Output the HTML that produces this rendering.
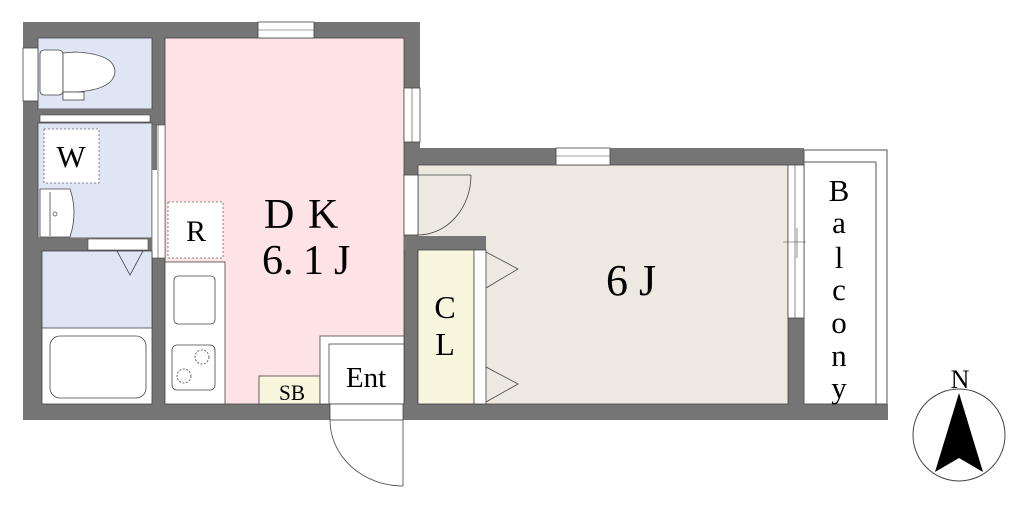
<!DOCTYPE html>
<html><head><meta charset="utf-8"><style>html,body{margin:0;padding:0;background:#fff}svg{display:block}</style></head><body>
<svg width="1024" height="511" viewBox="0 0 1024 511" xmlns="http://www.w3.org/2000/svg" font-family="Liberation Serif, serif">
<rect x="23" y="22" width="397" height="398" fill="#757575"/>
<rect x="404" y="148" width="400" height="272" fill="#757575"/>
<rect x="804" y="404" width="84" height="16" fill="#757575"/>
<rect x="804" y="150" width="83" height="254" fill="#fff" stroke="#555" stroke-width="1"/>
<line x1="876" y1="162" x2="876" y2="404" stroke="#555"/>
<line x1="804" y1="162" x2="876" y2="162" stroke="#555"/>
<rect x="165" y="38" width="239" height="366" fill="#fde2e6" stroke="#444" stroke-width="0.8"/>
<rect x="418" y="165" width="370" height="239" fill="#ede9e0" stroke="#444" stroke-width="0.8"/>
<rect x="404" y="236" width="82" height="14" fill="#757575"/>
<rect x="418" y="250" width="56" height="154" fill="#f8f6dc" stroke="#444" stroke-width="0.8"/>
<rect x="474" y="250" width="12" height="154" fill="#fff" stroke="#444" stroke-width="0.8"/>
<polyline points="486,252 518,269 486,288" fill="none" stroke="#444" stroke-width="0.8"/>
<polyline points="486,367 518,384 486,402" fill="none" stroke="#444" stroke-width="0.8"/>
<rect x="38" y="38" width="114" height="71" fill="#dfe5f2" stroke="#444" stroke-width="0.8"/>
<rect x="23" y="48" width="15" height="53" fill="#fff" stroke="#444" stroke-width="0.8"/>
<rect x="40" y="50" width="23" height="45" rx="4" fill="#fff" stroke="#444" stroke-width="0.8"/>
<path d="M63 53 L75 52 Q115 54 115 72 Q113 90 75 92 L63 92 Z" fill="#fff" stroke="#444" stroke-width="0.8"/>
<rect x="63" y="92" width="21" height="8" fill="#fff" stroke="#444" stroke-width="0.8"/>
<rect x="38" y="109" width="114" height="14" fill="#757575"/>
<rect x="40" y="115" width="110" height="7" fill="#fff" stroke="#444" stroke-width="0.6"/>
<rect x="38" y="123" width="114" height="115" fill="#dfe5f2" stroke="#444" stroke-width="0.8"/>
<rect x="44" y="129" width="55" height="54" fill="#fff" stroke="#666" stroke-width="0.8" stroke-dasharray="2,2"/>
<text x="71" y="167" font-size="31" text-anchor="middle">W</text>
<path d="M40 189 L70 189 Q78 212 70 237 L40 237 Z" fill="#fff" stroke="#444" stroke-width="0.8"/>
<line x1="50" y1="192" x2="50" y2="236" stroke="#444" stroke-width="0.8"/>
<circle cx="55" cy="214" r="2" fill="none" stroke="#444" stroke-width="0.7"/>
<rect x="152" y="125" width="13" height="133" fill="#fff" stroke="#444" stroke-width="0.6"/>
<line x1="158" y1="125" x2="158" y2="258" stroke="#444" stroke-width="0.6"/>
<rect x="152" y="125" width="5" height="45" fill="#757575"/>
<rect x="38" y="238" width="114" height="12" fill="#757575"/>
<rect x="88" y="239" width="60" height="11" fill="#fff" stroke="#444" stroke-width="0.6"/>
<rect x="42" y="251" width="110" height="153" fill="#fff" stroke="#444" stroke-width="0.8"/>
<rect x="42" y="251" width="110" height="77" fill="#dfe5f2" stroke="#444" stroke-width="0.8"/>
<polyline points="117,251 130,275 143,251" fill="none" stroke="#444" stroke-width="0.8"/>
<rect x="50" y="336" width="96" height="62" rx="10" fill="#fff" stroke="#444" stroke-width="0.8"/>
<rect x="168" y="202" width="55" height="56" fill="#fff" stroke="#666" stroke-width="0.8" stroke-dasharray="2,2"/>
<text x="196" y="241" font-size="30" text-anchor="middle">R</text>
<rect x="165" y="262" width="60" height="142" fill="#fff" stroke="#444" stroke-width="0.8"/>
<rect x="174" y="276" width="41" height="48" rx="4" fill="#fff" stroke="#444" stroke-width="0.8"/>
<rect x="172" y="345" width="43" height="45" rx="5" fill="#fff" stroke="#444" stroke-width="0.8"/>
<circle cx="202" cy="357" r="7" fill="none" stroke="#444" stroke-width="0.8" stroke-dasharray="2,1.5"/>
<circle cx="184" cy="376" r="7" fill="none" stroke="#444" stroke-width="0.8" stroke-dasharray="2,1.5"/>
<rect x="259" y="376" width="61" height="28" fill="#f8f6dc" stroke="#444" stroke-width="0.8"/>
<text x="292" y="400" font-size="22" text-anchor="middle" textLength="26" lengthAdjust="spacingAndGlyphs">SB</text>
<rect x="320" y="336" width="84" height="68" fill="#fff" stroke="#444" stroke-width="0.8"/>
<rect x="329" y="344" width="75" height="60" fill="#fff" stroke="#444" stroke-width="0.8"/>
<text x="366" y="387" font-size="29" text-anchor="middle">Ent</text>
<rect x="330" y="404" width="73" height="16" fill="#fff" stroke="#444" stroke-width="0.8"/>
<line x1="403" y1="420" x2="403" y2="486" stroke="#444" stroke-width="0.8"/>
<path d="M330 420 A73 66 0 0 0 403 486" fill="none" stroke="#444" stroke-width="0.8"/>
<rect x="258" y="22" width="56" height="16" fill="#fff" stroke="#444" stroke-width="0.8"/>
<line x1="258" y1="30" x2="314" y2="30" stroke="#444" stroke-width="0.6"/>
<rect x="404" y="88" width="16" height="54" fill="#fff" stroke="#444" stroke-width="0.8"/>
<line x1="412" y1="88" x2="412" y2="142" stroke="#444" stroke-width="0.6"/>
<rect x="556" y="148" width="54" height="17" fill="#fff" stroke="#444" stroke-width="0.8"/>
<line x1="556" y1="156" x2="610" y2="156" stroke="#444" stroke-width="0.6"/>
<rect x="788" y="165" width="16" height="153" fill="#fff" stroke="#444" stroke-width="0.8"/>
<line x1="795" y1="165" x2="795" y2="318" stroke="#444" stroke-width="0.6"/>
<line x1="783" y1="242" x2="806" y2="242" stroke="#444" stroke-width="0.6"/>
<line x1="797" y1="228" x2="797" y2="258" stroke="#444" stroke-width="0.6"/>
<rect x="404" y="175" width="14" height="60" fill="#fff" stroke="#444" stroke-width="0.8"/>
<line x1="418" y1="175" x2="471" y2="175" stroke="#444" stroke-width="0.8"/>
<path d="M471 175 A53 60 0 0 1 418 235" fill="none" stroke="#444" stroke-width="0.8"/>
<text x="264" y="228" font-size="42">D</text>
<text x="308" y="228" font-size="42">K</text>
<text x="262" y="274" font-size="42">6.</text>
<text x="303" y="274" font-size="42">1</text>
<text x="334" y="274" font-size="42">J</text>
<text x="606" y="295" font-size="44">6</text>
<text x="639" y="295" font-size="44">J</text>
<text x="445" y="318" font-size="32" text-anchor="middle">C</text>
<text x="445" y="355" font-size="32" text-anchor="middle">L</text>
<g font-size="31" text-anchor="middle">
<text x="839" y="201">B</text><text x="839" y="233">a</text><text x="839" y="268">l</text><text x="839" y="300">c</text><text x="839" y="333">o</text><text x="839" y="366">n</text><text x="839" y="398">y</text>
</g>
<circle cx="959" cy="435" r="46" fill="#fff" stroke="#444" stroke-width="1"/>
<polygon points="959,393 983,472 959,458 935,472" fill="#000"/>
<text x="960" y="388" font-size="26" text-anchor="middle">N</text>
</svg>
</body></html>
